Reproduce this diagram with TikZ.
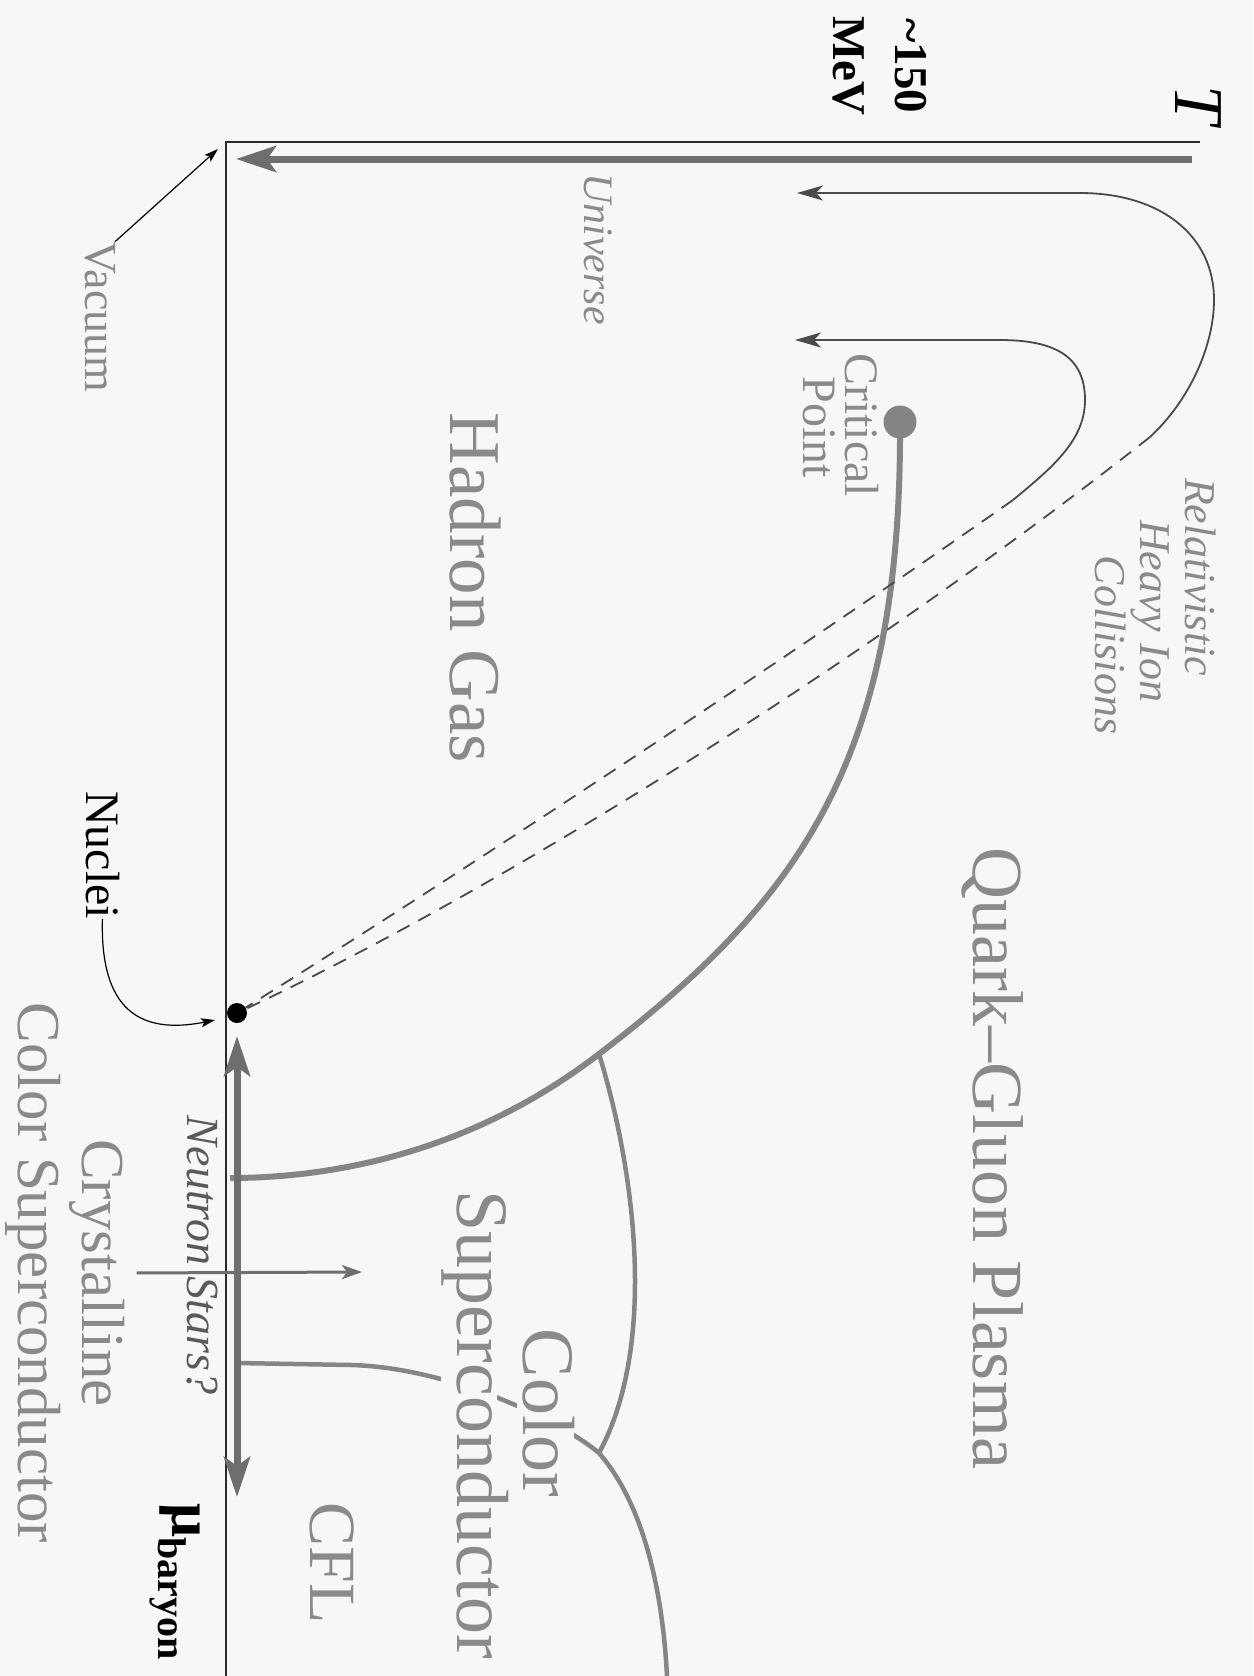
\documentclass[tikz,border=0pt]{standalone}
\usepackage{fontspec}
\setmainfont{Liberation Serif}
\usetikzlibrary{arrows.meta}
\definecolor{bg}{HTML}{F7F7F7}
\definecolor{lblgray}{HTML}{8A8A8A}
\definecolor{phgray}{HTML}{858585}
\definecolor{arrgray}{HTML}{6E6E6E}
\definecolor{dkgray}{HTML}{4A4A4A}
\definecolor{axisc}{HTML}{2A2A2A}
\definecolor{nsgray}{HTML}{5A5A5A}
\newcommand{\fsz}[1]{\fontsize{#1}{#1}\selectfont}
\begin{document}
\begin{tikzpicture}[x=1pt,y=-1pt,
 lbl/.style={rotate=-90, anchor=base, inner sep=0pt, text=lblgray},
 axisline/.style={draw=axisc, line width=2.5pt},
 phase/.style={draw=phgray, line width=6pt},
 phasethin/.style={draw=phgray, line width=4.5pt},
 traj/.style={draw=dkgray, line width=1.8pt, -{Stealth[length=26pt,width=15pt,inset=7pt]}},
 trajdash/.style={draw=dkgray, line width=1.8pt, dash pattern=on 14pt off 10pt},
 bigarrow/.style={draw=arrgray, line width=7pt},
 pointer/.style={draw=black, line width=1.2pt, -{Stealth[length=14pt,width=9pt,inset=3pt]}},
]
\fill[bg] (0,0) rectangle (1253,1676);
\useasboundingbox (0,0) rectangle (1253,1676);

% coordinates
\coordinate (O) at (226,142);
\coordinate (Tend) at (1200,142);
\coordinate (Mend) at (226,1676);
\coordinate (uStart) at (1192,159);
\coordinate (uTip) at (236,159);
\coordinate (cp) at (900,422);
\coordinate (jCS) at (599,1054);
\coordinate (jCFL) at (599,1453);
\coordinate (crysStart) at (237,1363);
\coordinate (cflEnd) at (667,1676);
\coordinate (nsTop) at (237,1036);
\coordinate (nsBot) at (237,1497);
\coordinate (oJ) at (1150,437);
\coordinate (oTip) at (797,193);
\coordinate (iJ) at (1013,500);
\coordinate (iTip) at (795,340);
\coordinate (vacTip) at (218,149);
\coordinate (nucTip) at (215,1020);
\coordinate (crysEnd) at (362,1272);
\coordinate (phEnd) at (230,1178);

% axes
\draw[axisline] (Tend) -- (O) -- (Mend);

% universe arrow
\draw[bigarrow, -{Stealth[length=40pt,width=26pt,inset=9pt]}] (uStart) -- (uTip);

% phase boundary
\draw[phase] (cp) .. controls (902,760) and (800,900) .. (jCS) .. controls (469,1154) and (330,1178) .. (phEnd);
\node[circle, fill=phgray, inner sep=0pt, minimum size=33pt] (cpDot) at (cp) {};

% color superconductor boundary
\draw[phasethin] (jCS) .. controls (632,1160) and (660,1340) .. (jCFL);
% crystalline / CFL boundary
\draw[phasethin] (crysStart) -- (352,1365) .. controls (450,1368) and (560,1420) .. (jCFL) .. controls (640,1500) and (662,1580) .. (cflEnd);

% neutron stars double arrow
\draw[bigarrow, {Stealth[length=40pt,width=26pt,inset=9pt]}-{Stealth[length=40pt,width=26pt,inset=9pt]}] (nsTop) -- (nsBot);

% nuclei dot
\node[circle, fill=black, inner sep=0pt, minimum size=20pt] (nucDot) at (237,1013) {};

% heavy ion trajectories
\draw[traj] (oJ) .. controls (1190,400) and (1214,345) .. (1214,300) .. controls (1214,235) and (1160,193) .. (1080,193) -- (oTip);
\draw[traj] (iJ) .. controls (1053,467) and (1085,440) .. (1085,400) .. controls (1085,360) and (1060,340) .. (1000,340) -- (iTip);
\draw[trajdash] (oJ) .. controls (857,667) and (495,892) .. (nucDot);
\draw[trajdash] (iJ) .. controls (800,650) and (450,880) .. (nucDot);

% labels
\node[lbl, text=black, font=\fsz{70}\itshape] (Tlab) at (1175,105) {T};
\node[lbl, text=black, font=\fsz{47}\bfseries] (t150) at (895,66) {\textasciitilde150};
\node[lbl, text=black, font=\fsz{47}\bfseries] (tMeV) at (833,66) {MeV};
\node[lbl, font=\fsz{46}] (vac) at (85,317) {Vacuum};
\node[lbl, font=\fsz{42}\itshape] (univ) at (584,249) {Universe};
\node[lbl, font=\fsz{44}\itshape] (rhic1) at (1185,577) {Relativistic};
\node[lbl, font=\fsz{44}\itshape] (rhic2) at (1140,611) {Heavy Ion};
\node[lbl, font=\fsz{44}\itshape] (rhic3) at (1095,645) {Collisions};
\node[lbl, font=\fsz{48}] (crit1) at (845,425) {Critical};
\node[lbl, font=\fsz{48}] (crit2) at (803,427) {Point};
\node[lbl, font=\fsz{73}] (hadron) at (450,588) {Hadron Gas};
\node[lbl, font=\fsz{72}] (qgp) at (973,1158) {Quark--Gluon Plasma};
\node[lbl, text=black, font=\fsz{48}] (nuc) at (86,855) {Nuclei};
\node[lbl, text=nsgray, font=\fsz{46}\itshape] (ns) at (187,1255) {Neutron Stars?};
\node[lbl, font=\fsz{61}] (crys) at (82,1273) {Crystalline};
\node[lbl, font=\fsz{61}] (crys2) at (18,1273) {Color Superconductor};
\node[lbl, font=\fsz{74}, fill=bg, text height=40pt] (csc2) at (457,1425) {Superconductor};
\node[lbl, font=\fsz{74}, fill=bg, text depth=6pt] (csc1) at (523,1413) {Color};
\node[lbl, font=\fsz{66}] (cfl) at (310,1563) {CFL};
\node[rotate=-90, anchor=base west, inner sep=0pt, font=\bfseries] (mub) at (172,1503) {\fsz{60}μ\fsz{40}\raisebox{-14pt}{baryon}};

% pointers
\draw[pointer] (vac.north west) -- (vacTip);
\draw[pointer] (nuc.east) .. controls (100,1010) and (140,1035) .. (nucTip);
\draw[draw=arrgray, line width=3pt, -{Stealth[length=20pt,width=14pt,inset=5pt]}, shorten <=12pt] (crys.north) -- (crysEnd);
\end{tikzpicture}
\end{document}
